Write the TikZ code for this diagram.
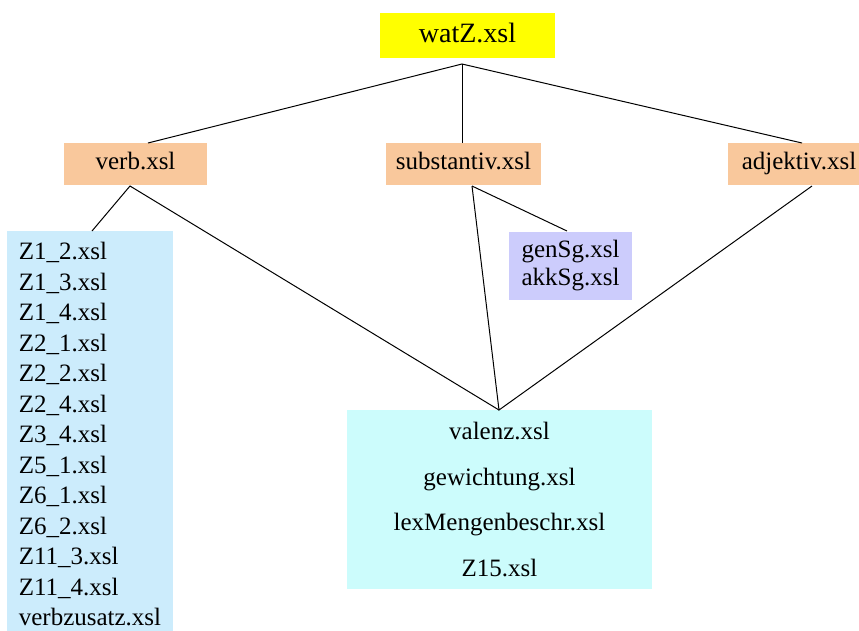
\documentclass[tikz,border=0pt]{standalone}
\usepackage{fontspec}
\setmainfont{Liberation Serif}
\definecolor{rootyellow}{HTML}{FFFF00}
\definecolor{peach}{HTML}{F9C89C}
\definecolor{listblue}{HTML}{CCECFC}
\definecolor{lilac}{HTML}{CCCCFC}
\definecolor{paleaqua}{HTML}{CCFCFC}
\tikzset{
  filebox/.style={rectangle, inner sep=0pt, draw=none, font=\fontsize{25}{30}\selectfont,
                  text height=17.25pt, text depth=5.5pt},
  link/.style={draw=black, line width=1pt}
}
\begin{document}
\begin{tikzpicture}[x=1pt, y=-1pt]
\useasboundingbox (0,0) rectangle (859,630);
\begin{scope}
\clip (0,0) rectangle (859,630);

% root
\node[filebox, fill=rootyellow, minimum width=175, minimum height=45,
      font=\fontsize{28}{32}\selectfont, text height=19.3pt, text depth=6.2pt] (watz) at (467.5,35.5) {watZ.xsl};

% second level
\node[filebox, fill=peach, minimum width=143, minimum height=42] (verb) at (135.5,164) {verb.xsl};
\node[filebox, fill=peach, minimum width=155, minimum height=42] (subst) at (463.5,164) {substantiv.xsl};
\node[filebox, fill=peach, minimum width=142, minimum height=42] (adj) at (799,164) {adjektiv.xsl};

% verb files
\node[rectangle, fill=listblue, inner xsep=11pt, inner ysep=0pt, minimum width=166, minimum height=406,
      align=left, font=\fontsize{25}{30.5}\selectfont] (zlist) at (90,434)
  {Z1\_2.xsl\\Z1\_3.xsl\\Z1\_4.xsl\\Z2\_1.xsl\\Z2\_2.xsl\\Z2\_4.xsl\\Z3\_4.xsl\\Z5\_1.xsl\\Z6\_1.xsl\\Z6\_2.xsl\\Z11\_3.xsl\\Z11\_4.xsl\\verbzusatz.xsl};

% noun case files
\node[rectangle, fill=lilac, inner sep=0pt, minimum width=123, minimum height=68,
      align=center, font=\fontsize{25}{28}\selectfont] (cases) at (570.5,266)
  {genSg.xsl\\akkSg.xsl};

% shared files
\node[rectangle, fill=paleaqua, inner sep=0pt, minimum width=305, minimum height=179,
      align=center, font=\fontsize{25}{45.7}\selectfont] (shared) at (499.5,499.5)
  {valenz.xsl\\gewichtung.xsl\\lexMengenbeschr.xsl\\Z15.xsl};
\end{scope}

% connector end points
\coordinate (apex) at (462,64);
\coordinate (verbTop) at (148,143);
\coordinate (verbBot) at (130,186);
\coordinate (listTop) at (92,231);
\coordinate (substTop) at (462,143);
\coordinate (substBot) at (472,186);
\coordinate (casesTop) at (567,231);
\coordinate (adjTop) at (802,143);
\coordinate (adjBot) at (812,186);
\coordinate (join) at (499,410);

\draw[link] (verbTop) -- (apex) -- (adjTop);
\draw[link] (apex) -- (substTop);
\draw[link] (listTop) -- (verbBot) -- (join);
\draw[link] (substBot) -- (join) -- (adjBot);
\draw[link] (substBot) -- (casesTop);
\end{tikzpicture}
\end{document}
